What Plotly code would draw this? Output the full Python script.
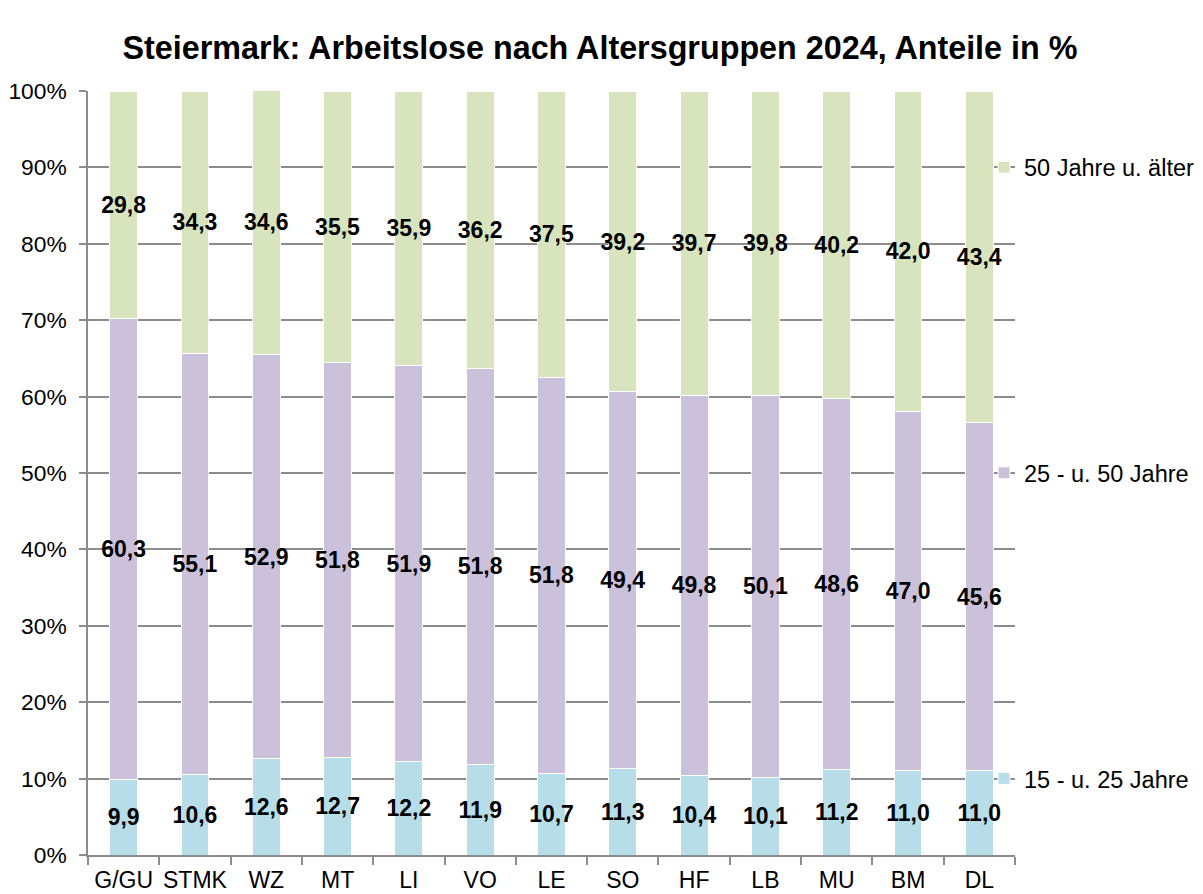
import plotly.graph_objects as go

categories = ["G/GU", "STMK", "WZ", "MT", "LI", "VO", "LE", "SO", "HF", "LB", "MU", "BM", "DL"]
age_15_25 = [9.9, 10.6, 12.6, 12.7, 12.2, 11.9, 10.7, 11.3, 10.4, 10.1, 11.2, 11.0, 11.0]
age_25_50 = [60.3, 55.1, 52.9, 51.8, 51.9, 51.8, 51.8, 49.4, 49.8, 50.1, 48.6, 47.0, 45.6]
age_50_plus = [29.8, 34.3, 34.6, 35.5, 35.9, 36.2, 37.5, 39.2, 39.7, 39.8, 40.2, 42.0, 43.4]
series_names = ["15 - u. 25 Jahre", "25 - u. 50 Jahre", "50 Jahre u. älter"]
series_colors = ["#B7DEE8", "#CCC1DA", "#D7E4BD"]
tick_vals = [0, 10, 20, 30, 40, 50, 60, 70, 80, 90, 100]
title_text = "Steiermark: Arbeitslose nach Altersgruppen 2024, Anteile in %"

FONT = "Liberation Sans, Arial, sans-serif"
GRID = "#8C8C8C"

def fmt(v):
    return f"{v:.1f}".replace(".", ",")

fig = go.Figure()
legend_ids = ["legend", "legend2", "legend3"]
for vals, name, col, lg in zip([age_15_25, age_25_50, age_50_plus], series_names, series_colors, legend_ids):
    fig.add_trace(go.Bar(
        x=categories, y=vals, name=name,
        marker=dict(color=col, line=dict(color="white", width=1)),
        text=[fmt(v) for v in vals], texttemplate="%{text}",
        textposition="inside", insidetextanchor="middle", constraintext="none",
        textangle=0,
        textfont=dict(family=FONT, size=23, color="black", weight="bold"),
        legend=lg, hoverinfo="skip",
    ))

W, H = 1195, 886
ML, MR, MT, MB = 80, 188, 83, 39
leg_x = (976 - ML) / (W - ML - MR)
def legend_at(yp):
    return dict(x=leg_x, xanchor="left", y=yp, yanchor="middle",
                font=dict(family=FONT, size=23.5, color="#000000"),
                bgcolor="rgba(0,0,0,0)", itemwidth=30, tracegroupgap=0)

fig.update_layout(
    width=W, height=H,
    barmode="stack", bargap=0.61,
    paper_bgcolor="white", plot_bgcolor="white",
    margin=dict(l=ML, r=MR, t=MT, b=MB, autoexpand=False),
    title=dict(text=title_text, x=592 / W, xanchor="center", xref="container",
               y=1 - 40 / H, yanchor="middle", yref="container",
               font=dict(family=FONT, size=32.3, color="black", weight="bold")),
    legend=legend_at(0.1),
    legend2=legend_at(0.5),
    legend3=legend_at(0.9),
    font=dict(family=FONT, size=23, color="black"),
    showlegend=True,
)

fig.update_yaxes(
    range=[0, 100], tickvals=tick_vals, ticktext=[f"{v}%" for v in tick_vals],
    showgrid=True, gridcolor=GRID, gridwidth=1.5,
    showline=True, linecolor=GRID, linewidth=1.5,
    ticks="outside", ticklen=7, tickcolor=GRID, tickwidth=1.5,
    ticklabelstandoff=8, automargin=False,
    tickfont=dict(family=FONT, size=22.8, color="black"),
    zeroline=False, layer="below traces",
)
fig.update_xaxes(
    showline=True, linecolor=GRID, linewidth=1.5,
    ticks="outside", tickson="boundaries", ticklen=8, tickcolor=GRID, tickwidth=1.5,
    automargin=False, tickangle=0, ticklabelstandoff=4,
    tickfont=dict(family=FONT, size=23, color="black"),
    showgrid=False,
)

fig.write_html("out.html")
